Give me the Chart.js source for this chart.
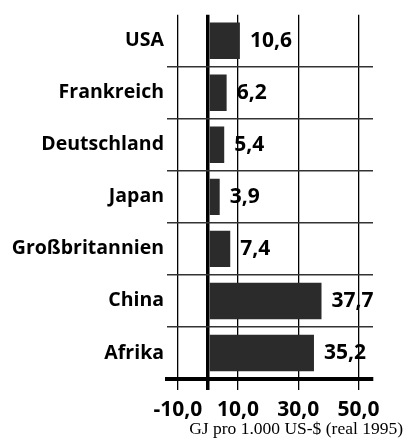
<!DOCTYPE html>
<html>
<head>
<meta charset="utf-8">
<script src="https://cdn.jsdelivr.net/npm/chart.js@4/dist/chart.umd.min.js"></script>
<style>
  html, body { margin: 0; padding: 0; background: #fff; }
</style>
</head>
<body>
<canvas id="chart" width="404" height="441"></canvas>
<script>
// Energieintensität je Land
const countries = ['USA', 'Frankreich', 'Deutschland', 'Japan', 'Großbritannien', 'China', 'Afrika'];
const energyValues = [10.6, 6.2, 5.4, 3.9, 7.4, 37.7, 35.2];
const xTickValues = [-10, 0, 10, 30, 50];
const unitCaption = 'GJ pro 1.000 US-$ (real 1995)';

const fmt = v => v.toFixed(1).replace('.', ',');
const numberFont = { family: '"Open Sans", sans-serif', size: 21, weight: 'bold' };
const nameFont = { family: '"Open Sans", sans-serif', size: 19.5, weight: 'bold' };

// Wertebeschriftung rechts neben den Balken
const valueLabels = {
    id: 'valueLabels',
    afterDatasetsDraw(chart) {
        const ctx = chart.ctx;
        const meta = chart.getDatasetMeta(0);
        ctx.save();
        ctx.font = 'bold 21px "Open Sans", sans-serif';
        ctx.fillStyle = '#000';
        ctx.textAlign = 'left';
        ctx.textBaseline = 'middle';
        meta.data.forEach((bar, i) => {
            ctx.fillText(fmt(energyValues[i]), bar.x + 10, bar.y);
        });
        ctx.restore();
    }
};

// Einheit unten rechts
const caption = {
    id: 'caption',
    afterDraw(chart) {
        const ctx = chart.ctx;
        ctx.save();
        ctx.font = '17.5px "Liberation Serif", serif';
        ctx.fillStyle = '#000';
        ctx.textAlign = 'right';
        ctx.textBaseline = 'alphabetic';
        ctx.fillText(unitCaption, chart.width - 1, chart.height - 7);
        ctx.restore();
    }
};

new Chart(document.getElementById('chart'), {
    type: 'bar',
    data: {
        labels: countries,
        datasets: [{
            data: energyValues,
            backgroundColor: '#2b2b2b',
            borderWidth: 0,
            barPercentage: 0.7,
            categoryPercentage: 1
        }]
    },
    options: {
        indexAxis: 'y',
        responsive: false,
        animation: false,
        layout: { padding: { top: 12, right: 31, bottom: 0, left: 0 } },
        plugins: {
            legend: { display: false },
            tooltip: { enabled: false }
        },
        scales: {
            x: {
                min: -13.6,
                max: 54.8,
                afterBuildTicks: scale => {
                    scale.ticks = xTickValues.map(v => ({ value: v }));
                },
                afterFit: scale => { scale.height = 62; },
                grid: {
                    color: '#000',
                    lineWidth: c => (c.tick && c.tick.value === 0 ? 3.5 : 1.3),
                    tickLength: 11
                },
                border: { display: true, color: '#000', width: 4 },
                ticks: {
                    color: '#000',
                    font: numberFont,
                    padding: 7,
                    maxRotation: 0,
                    autoSkip: false,
                    callback: v => (v === 0 ? '' : fmt(v))
                }
            },
            y: {
                afterFit: scale => { scale.width = 167; },
                grid: {
                    offset: true,
                    drawTicks: false,
                    color: c => (c.index === 0 ? 'rgba(0,0,0,0)' : '#333'),
                    lineWidth: 1.5
                },
                border: { display: false },
                ticks: {
                    color: '#000',
                    font: nameFont,
                    padding: 3
                }
            }
        }
    },
    plugins: [valueLabels, caption]
});
</script>
</body>
</html>
